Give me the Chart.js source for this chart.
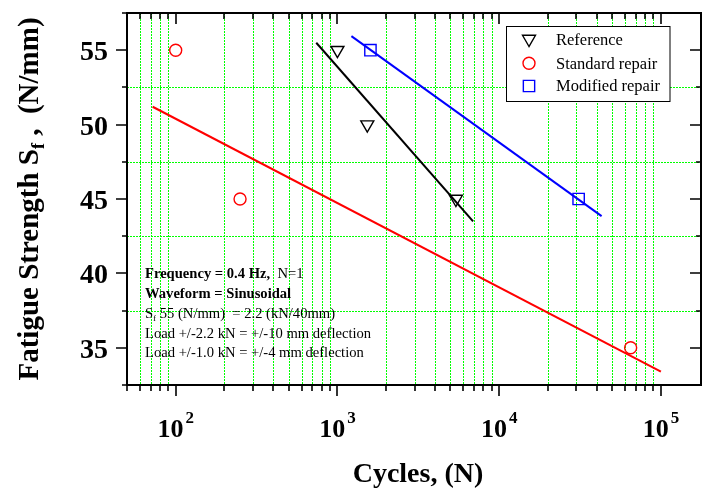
<!DOCTYPE html>
<html>
<head>
<meta charset="utf-8">
<script src="https://cdn.jsdelivr.net/npm/chart.js@4.4.1/dist/chart.umd.min.js"></script>
<style>
  html, body { margin: 0; padding: 0; background: #fff; overflow: hidden; }
  #wrap { width: 702px; height: 489px; }
</style>
</head>
<body>
<div id="wrap"><canvas id="chart" width="702" height="489"></canvas></div>
<script>
// measured points
var refCycles = [1000, 1530, 5400];
var refStrength = [55, 50, 45];
var stdCycles = [100, 250, 65000];
var stdStrength = [55, 45, 35];
var modCycles = [1600, 31000];
var modStrength = [55, 45];

// fitted lines (end points)
var refFitCycles = [740, 6900];
var refFitStrength = [55.5, 43.5];
var stdFitCycles = [72, 100000];
var stdFitStrength = [51.2, 33.4];
var modFitCycles = [1220, 43000];
var modFitStrength = [55.95, 43.85];

// axes
var xMajorTicks = [100, 1000, 10000, 100000];
var xMinorTicks = [50, 60, 70, 80, 90,
    200, 300, 400, 500, 600, 700, 800, 900,
    2000, 3000, 4000, 5000, 6000, 7000, 8000, 9000,
    20000, 30000, 40000, 50000, 60000, 70000, 80000, 90000];
var yMajorTicks = [35, 40, 45, 50, 55];
var yMinorTicks = [32.5, 37.5, 42.5, 47.5, 52.5, 57.5];
var yGridLines = [37.5, 42.5, 47.5, 52.5];

var legendLabels = ["Reference", "Standard repair", "Modified repair"];

function pairs(xs, ys) {
    var out = [];
    for (var i = 0; i < xs.length; i++) {
        out.push({x: xs[i], y: ys[i]});
    }
    return out;
}

var serif = '"Liberation Serif", "Times New Roman", serif';
var gridGreen = '#00ff00';

var markerStyles = [
    {pointStyle: 'triangle', rotation: 180, radius: 7.5, color: '#000000'},
    {pointStyle: 'circle', rotation: 0, radius: 6, color: '#ff0000'},
    {pointStyle: 'rect', rotation: 0, radius: 8, color: '#0000ff'}
];

function lineSet(xs, ys, color) {
    return {
        data: pairs(xs, ys),
        showLine: true,
        borderColor: color,
        borderWidth: 2,
        pointRadius: 0,
        fill: false
    };
}

function markerSet(xs, ys, m) {
    return {
        data: pairs(xs, ys),
        showLine: false,
        pointStyle: m.pointStyle,
        rotation: m.rotation,
        pointRadius: m.radius,
        borderColor: m.color,
        backgroundColor: 'rgba(0,0,0,0)',
        pointBorderWidth: 1.4
    };
}

function drawSegments(ctx, segs, x, y) {
    // segs: [text, font, dy]
    var cx = x;
    segs.forEach(function(s) {
        ctx.font = s[1];
        ctx.fillText(s[0], cx, y + (s[2] || 0));
        cx += ctx.measureText(s[0]).width;
    });
    return cx - x;
}

function segWidth(ctx, segs) {
    var w = 0;
    segs.forEach(function(s) {
        ctx.font = s[1];
        w += ctx.measureText(s[0]).width;
    });
    return w;
}

// dotted green grid, only on the minor positions
var gridLines = {
    id: 'gridLines',
    beforeDatasetsDraw: function(chart) {
        var ctx = chart.ctx;
        var a = chart.chartArea;
        var xs = chart.scales.x, ys = chart.scales.y;
        ctx.save();
        ctx.strokeStyle = gridGreen;
        ctx.lineWidth = 1;
        ctx.setLineDash([2, 1]);
        ctx.beginPath();
        xMinorTicks.forEach(function(v) {
            if (v === 50) return;
            var px = Math.round(xs.getPixelForValue(v)) + 0.5;
            ctx.moveTo(px, a.top);
            ctx.lineTo(px, a.bottom);
        });
        yGridLines.forEach(function(v) {
            var py = Math.round(ys.getPixelForValue(v)) + 0.5;
            ctx.moveTo(a.left, py);
            ctx.lineTo(a.right, py);
        });
        ctx.stroke();
        ctx.restore();
    }
};

var decor = {
    id: 'decor',
    afterDraw: function(chart) {
        var ctx = chart.ctx;
        var a = chart.chartArea;
        var xs = chart.scales.x, ys = chart.scales.y;
        ctx.save();

        // frame
        ctx.strokeStyle = '#000';
        ctx.lineWidth = 2;
        ctx.strokeRect(a.left, a.top, a.right - a.left, a.bottom - a.top);

        // ticks: out on bottom/left, in on top/right
        ctx.beginPath();
        ctx.lineWidth = 1.6;
        function xt(v, len) {
            var px = Math.round(xs.getPixelForValue(v));
            ctx.moveTo(px, a.bottom); ctx.lineTo(px, a.bottom + len);
            ctx.moveTo(px, a.top); ctx.lineTo(px, a.top + len);
        }
        function yt(v, len) {
            var py = Math.round(ys.getPixelForValue(v));
            ctx.moveTo(a.left, py); ctx.lineTo(a.left - len, py);
            ctx.moveTo(a.right, py); ctx.lineTo(a.right - len, py);
        }
        xMajorTicks.forEach(function(v) { xt(v, 11); });
        xMinorTicks.forEach(function(v) { xt(v, 6); });
        yMajorTicks.forEach(function(v) { yt(v, 11); });
        yMinorTicks.forEach(function(v) { yt(v, 5); });
        ctx.stroke();

        ctx.fillStyle = '#000';
        ctx.textBaseline = 'alphabetic';

        // y tick labels
        ctx.font = 'bold 28px ' + serif;
        ctx.textAlign = 'right';
        yMajorTicks.forEach(function(v) {
            ctx.fillText(String(v), a.left - 19, ys.getPixelForValue(v) + 10);
        });

        // x tick labels 10^n
        ctx.textAlign = 'left';
        xMajorTicks.forEach(function(v) {
            var exp = String(Math.round(Math.log10(v)));
            var segs = [['10', 'bold 26px ' + serif, 0], [exp, 'bold 17px ' + serif, -14]];
            var w = segWidth(ctx, segs) + 2;
            var px = xs.getPixelForValue(v);
            var x0 = px - w / 2;
            ctx.font = segs[0][1];
            ctx.fillText('10', x0, 437);
            var w10 = ctx.measureText('10').width;
            ctx.font = segs[1][1];
            ctx.fillText(exp, x0 + w10 + 2, 423);
        });

        // x title
        ctx.font = 'bold 28px ' + serif;
        ctx.textAlign = 'center';
        ctx.fillText('Cycles, (N)', 418, 482);

        // y title, rotated
        ctx.save();
        ctx.translate(38, (a.top + a.bottom) / 2);
        ctx.rotate(-Math.PI / 2);
        ctx.textAlign = 'left';
        var tsegs = [
            ['Fatigue Strength S', 'bold 29px ' + serif, 0],
            ['f', 'bold 18px ' + serif, 6],
            [' ,  (N/mm)', 'bold 29px ' + serif, 0]
        ];
        var tw = segWidth(ctx, tsegs);
        drawSegments(ctx, tsegs, -tw / 2, 0);
        ctx.restore();

        // annotation block
        ctx.textAlign = 'left';
        var ax = 145, fs = '14.6px ';
        drawSegments(ctx, [['Frequency = 0.4 Hz,', 'bold ' + fs + serif, 0], ['  N=1', fs + serif, 0]], ax, 278);
        drawSegments(ctx, [['Waveform = Sinusoidal', 'bold ' + fs + serif, 0]], ax, 298);
        drawSegments(ctx, [['S', fs + serif, 0], ['f', '9px ' + serif, 3], [' 55 (N/mm)  = 2.2 (kN/40mm)', fs + serif, 0]], ax, 318);
        drawSegments(ctx, [['Load +/-2.2 kN = +/-10 mm deflection', fs + serif, 0]], ax, 337.5);
        drawSegments(ctx, [['Load +/-1.0 kN = +/-4 mm deflection', fs + serif, 0]], ax, 357);

        // legend box
        var lx = 506.5, ly = 26.5, lw = 163.5, lh = 75;
        ctx.fillStyle = '#fff';
        ctx.fillRect(lx, ly, lw, lh);
        ctx.strokeStyle = '#000';
        ctx.lineWidth = 1;
        ctx.strokeRect(lx, ly, lw, lh);
        var rows = [40, 63.3, 86];
        ctx.font = '16.5px ' + serif;
        ctx.textBaseline = 'middle';
        legendLabels.forEach(function(label, i) {
            var m = markerStyles[i];
            ctx.strokeStyle = m.color;
            ctx.fillStyle = 'rgba(0,0,0,0)';
            ctx.lineWidth = 1.4;
            Chart.helpers.drawPoint(ctx, {
                pointStyle: m.pointStyle, rotation: m.rotation,
                radius: m.radius, borderWidth: 1.4
            }, 529, rows[i] + (m.pointStyle === 'triangle' ? -1 : 0));
            ctx.fillStyle = '#000';
            ctx.fillText(label, 556, rows[i] + 1);
        });

        ctx.restore();
    }
};

var ctx = document.getElementById('chart');

new Chart(ctx, {
    type: 'scatter',
    data: {
        datasets: [
            lineSet(stdFitCycles, stdFitStrength, '#ff0000'),
            lineSet(refFitCycles, refFitStrength, '#000000'),
            lineSet(modFitCycles, modFitStrength, '#0000ff'),
            markerSet(refCycles, refStrength, markerStyles[0]),
            markerSet(stdCycles, stdStrength, markerStyles[1]),
            markerSet(modCycles, modStrength, markerStyles[2])
        ]
    },
    options: {
        responsive: false,
        animation: false,
        events: [],
        layout: {
            autoPadding: false,
            padding: {left: 127, top: 13, right: 1, bottom: 104}
        },
        plugins: {
            legend: {display: false},
            tooltip: {enabled: false}
        },
        scales: {
            x: {
                type: 'logarithmic',
                bounds: 'data',
                min: 50,
                max: 177000,
                ticks: {display: false},
                grid: {display: false, drawTicks: false},
                border: {display: false}
            },
            y: {
                type: 'linear',
                min: 32.5,
                max: 57.5,
                ticks: {display: false},
                grid: {display: false, drawTicks: false},
                border: {display: false}
            }
        }
    },
    plugins: [gridLines, decor]
});
</script>
</body>
</html>
